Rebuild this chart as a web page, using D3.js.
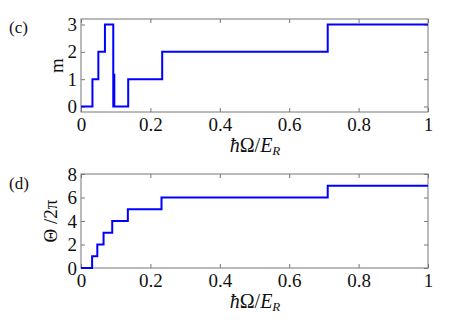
<!DOCTYPE html>
<html>
<head>
<meta charset="utf-8">
<script src="https://cdn.jsdelivr.net/npm/d3@7"></script>
<style>
  body { margin: 0; background: #fff; }
</style>
</head>
<body>
<div id="chart"></div>
<script>
// step break points (curveStepAfter)
var mX = [0, 0.033, 0.050, 0.069, 0.093, 0.096, 0.096, 0.136, 0.234, 0.711, 1];
var mY = [0, 1, 2, 3, 0, 1.2, 0, 1, 2, 3, 3];

var thetaX = [0, 0.032, 0.047, 0.065, 0.090, 0.135, 0.232, 0.711, 1];
var thetaY = [0, 1, 2, 3, 4, 5, 6, 7, 7];

var xTicks = [0, 0.2, 0.4, 0.6, 0.8, 1];
var mTicks = [0, 1, 2, 3];
var thetaTicks = [0, 2, 4, 6, 8];

var W = 458, H = 320;
var left = 81, right = 428;
var serif = "'Liberation Serif', 'Times New Roman', serif";

var svg = d3.select("#chart").append("svg")
    .attr("width", W)
    .attr("height", H)
    .attr("font-family", serif);

var x = d3.scaleLinear().domain([0, 1]).range([left, right]);

function panel(top, bottom, yDomain, yTicks, xs, ys, ylabel, tag, tagY, ylabelX) {
    var y = d3.scaleLinear().domain(yDomain).range([bottom, top]);
    var g = svg.append("g");

    // axes, ticks pointing inward
    var fmt = function(d) { return d3.format("~g")(d); };
    g.append("g")
        .attr("transform", "translate(0," + bottom + ")")
        .call(d3.axisBottom(x).tickValues(xTicks).tickSizeInner(-4).tickSizeOuter(0).tickPadding(6).tickFormat(fmt));
    g.append("g")
        .attr("transform", "translate(0," + top + ")")
        .call(d3.axisTop(x).tickValues(xTicks).tickSizeInner(-4).tickSizeOuter(0).tickFormat(""));
    g.append("g")
        .attr("transform", "translate(" + left + ",0)")
        .call(d3.axisLeft(y).tickValues(yTicks).tickSizeInner(-4).tickSizeOuter(0).tickPadding(4).tickFormat(fmt));
    g.append("g")
        .attr("transform", "translate(" + right + ",0)")
        .call(d3.axisRight(y).tickValues(yTicks).tickSizeInner(-4).tickSizeOuter(0).tickFormat(""));

    g.selectAll("g").attr("font-family", serif).attr("font-size", 19);
    g.selectAll(".domain").remove();
    g.selectAll(".tick line").attr("stroke", "#777");
    g.selectAll(".tick text").attr("fill", "#111");

    g.append("rect")
        .attr("x", left).attr("y", top)
        .attr("width", right - left).attr("height", bottom - top)
        .attr("fill", "none").attr("stroke", "#777").attr("stroke-width", 1);

    var line = d3.line()
        .x(function(d) { return x(d[0]); })
        .y(function(d) { return y(d[1]); })
        .curve(d3.curveStepAfter);

    g.append("path")
        .datum(d3.zip(xs, ys))
        .attr("d", line)
        .attr("fill", "none")
        .attr("stroke", "#0000ff")
        .attr("stroke-width", 2);

    // x label  ħΩ/E_R
    var xl = g.append("text")
        .attr("x", 255).attr("y", bottom + 40)
        .attr("text-anchor", "middle")
        .attr("fill", "#111")
        .style("font-size", "20px");
    xl.append("tspan").style("font-style", "italic").text("\u0127");
    xl.append("tspan").text("Ω/");
    xl.append("tspan").style("font-style", "italic").text("E");
    xl.append("tspan").attr("dy", 3).style("font-size", "13px").style("font-style", "italic").text("R");

    g.append("text")
        .attr("transform", "translate(" + ylabelX + "," + ((top + bottom) / 2) + ") rotate(-90)")
        .attr("text-anchor", "middle")
        .attr("fill", "#111")
        .style("font-size", "19px")
        .text(ylabel);

    g.append("text")
        .attr("x", 9).attr("y", tagY)
        .attr("fill", "#111")
        .style("font-size", "17px")
        .text(tag);
}

panel(19, 112, [-0.2, 3.2], mTicks, mX, mY, "m", "(c)", 33, 63, 0);
panel(174, 268, [0, 8], thetaTicks, thetaX, thetaY, "Θ /2π", "(d)", 189, 57);
</script>
</body>
</html>
